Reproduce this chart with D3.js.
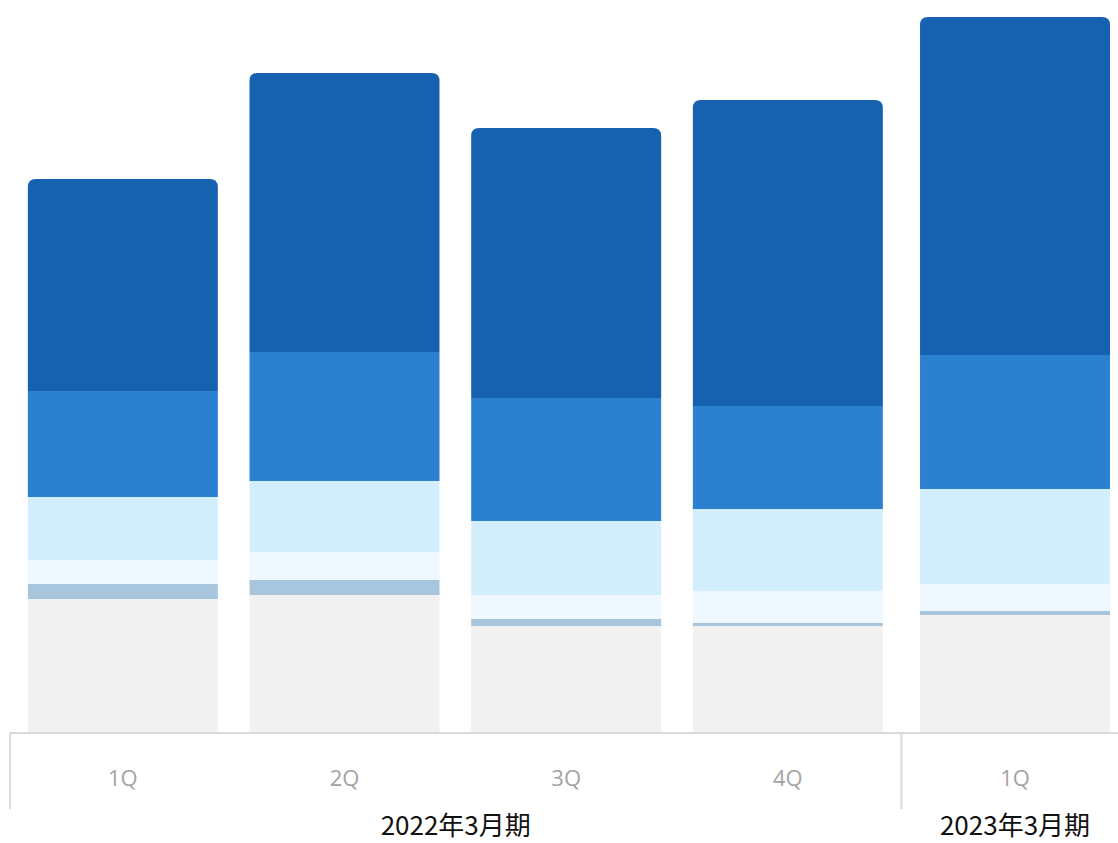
<!DOCTYPE html>
<html>
<head>
<meta charset="utf-8">
<script src="https://cdn.jsdelivr.net/npm/d3@7"></script>
<style>
  html, body { margin: 0; padding: 0; background: #fff; }
  svg { display: block; }
</style>
</head>
<body>
<svg id="chart" width="1118" height="843"></svg>
<script>
// ---- data ----
const categories = ["2022-1Q", "2022-2Q", "2022-3Q", "2022-4Q", "2023-1Q"];
const quarterLabels = ["1Q", "2Q", "3Q", "4Q", "1Q"];
const groupOf = [0, 0, 0, 0, 1];
const groupLabels = ["2022年3月期", "2023年3月期"];
const seriesNames = ["s1", "s2", "s3", "s4", "s5", "s6"]; // bottom -> top
const s1 = [134, 138, 107, 107, 118];
const s2 = [15, 15, 7, 3, 4];
const s3 = [24, 28, 24, 32, 27];
const s4 = [63, 71, 74, 82, 95];
const s5 = [106, 129, 123, 103, 134];
const s6 = [212, 279, 270, 306, 338];
const seriesColors = ["#f1f1f1", "#a7c5dc", "#eef8fe", "#d3eefc", "#2b80d0", "#1662b0"];

const seriesValues = [s1, s2, s3, s4, s5, s6];
const table = categories.map((c, i) => {
  const row = { cat: c };
  seriesNames.forEach((s, j) => row[s] = seriesValues[j][i]);
  return row;
});

const svg = d3.select("#chart");
const baseY = 733, topY = 17;
const left = 12, step = 221.67, groupGap = 5.5;

const x = d3.scaleBand().domain(categories)
  .range([left, left + step * categories.length])
  .paddingInner(0.143).paddingOuter(0.0715);
const xPos = (c, i) => x(c) + (groupOf[i] === 1 ? groupGap : 0);

const stack = d3.stack().keys(seriesNames);
const stacked = stack(table);
const maxTotal = d3.max(stacked[stacked.length - 1], d => d[1]);
const y = d3.scaleLinear().domain([0, maxTotal]).range([baseY, topY]);

const r = 8;
function topRounded(x0, y0, w, h) {
  const rr = Math.min(r, h, w / 2);
  return `M${x0},${y0 + h}V${y0 + rr}Q${x0},${y0} ${x0 + rr},${y0}H${x0 + w - rr}Q${x0 + w},${y0} ${x0 + w},${y0 + rr}V${y0 + h}Z`;
}

stacked.forEach((layer, li) => {
  const g = svg.append("g").attr("fill", seriesColors[li]);
  layer.forEach((d, i) => {
    const x0 = xPos(categories[i], i);
    const w = x.bandwidth();
    const y0 = y(d[1]), y1 = y(d[0]);
    if (li === stacked.length - 1) {
      g.append("path").attr("d", topRounded(x0, y0, w, y1 - y0));
    } else {
      g.append("rect").attr("x", x0).attr("y", y0).attr("width", w).attr("height", y1 - y0);
    }
  });
});

// ---- axis ----
const axisColor = "#d9d9d9";
svg.append("line").attr("x1", 10).attr("x2", 1118).attr("y1", baseY).attr("y2", baseY)
  .attr("stroke", axisColor).attr("stroke-width", 2);
svg.append("line").attr("x1", 10).attr("x2", 10).attr("y1", baseY).attr("y2", 809)
  .attr("stroke", axisColor).attr("stroke-width", 2);
// group separator
const sepX = (x(categories[3]) + x.bandwidth() + xPos(categories[4], 4)) / 2;
svg.append("line").attr("x1", sepX).attr("x2", sepX).attr("y1", baseY).attr("y2", 809)
  .attr("stroke", axisColor).attr("stroke-width", 2);

svg.append("g").selectAll("text").data(quarterLabels).join("text")
  .attr("x", (d, i) => xPos(categories[i], i) + x.bandwidth() / 2)
  .attr("y", 786)
  .attr("text-anchor", "middle")
  .attr("font-family", "'Open Sans', 'Noto Sans', sans-serif")
  .attr("font-size", 22)
  .attr("fill", "#a3a3a3")
  .text(d => d);

const groupCenters = groupLabels.map((g, gi) => {
  const idx = categories.map((c, i) => i).filter(i => groupOf[i] === gi);
  const xs = idx.map(i => xPos(categories[i], i) + x.bandwidth() / 2);
  return gi === 0 ? (10 + sepX) / 2 : d3.mean(xs);
});
svg.append("g").selectAll("text").data(groupLabels).join("text")
  .attr("x", (d, i) => groupCenters[i])
  .attr("y", 835)
  .attr("text-anchor", "middle")
  .attr("font-family", "'Noto Sans CJK JP', sans-serif")
  .attr("font-size", 26)
  .attr("fill", "#111")
  .text(d => d);
</script>
</body>
</html>
